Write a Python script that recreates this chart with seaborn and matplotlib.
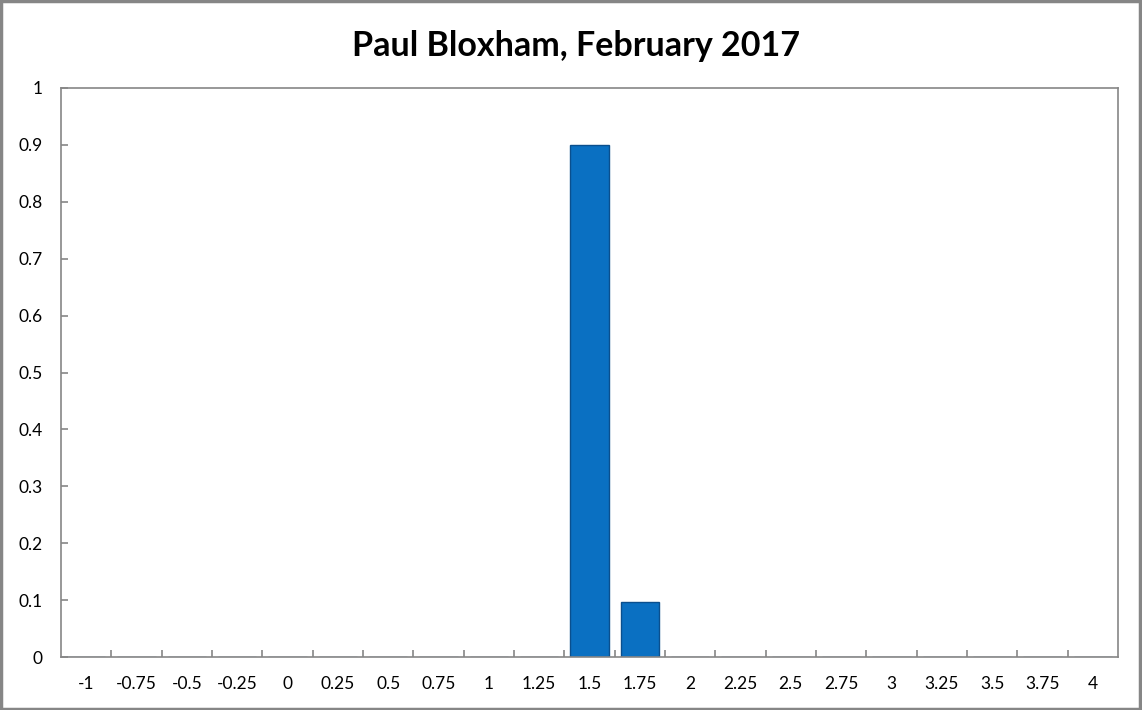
import pandas as pd
import matplotlib
matplotlib.use("Agg")
import matplotlib.pyplot as plt
import seaborn as sns
from matplotlib.patches import Rectangle

# categories and probabilities
categories = ['-1', '-0.75', '-0.5', '-0.25', '0', '0.25', '0.5', '0.75', '1', '1.25',
              '1.5', '1.75', '2', '2.25', '2.5', '2.75', '3', '3.25', '3.5', '3.75', '4']
values = [0, 0, 0, 0, 0, 0, 0, 0, 0, 0,
          0.9, 0.096, 0, 0, 0, 0, 0, 0, 0, 0, 0]
y_ticks = [0, 0.1, 0.2, 0.3, 0.4, 0.5, 0.6, 0.7, 0.8, 0.9, 1]
y_labels = ['0', '0.1', '0.2', '0.3', '0.4', '0.5', '0.6', '0.7', '0.8', '0.9', '1']
title = 'Paul Bloxham, February 2017'

df = pd.DataFrame({'bucket': categories, 'prob': values})

sns.set_style('white')
plt.rcParams['font.family'] = ['Lato', 'DejaVu Sans']

fig = plt.figure(figsize=(11.42, 7.1), dpi=100)
ax = fig.add_axes([61 / 1142, 53 / 710, 1057 / 1142, 569 / 710])

sns.barplot(data=df, x='bucket', y='prob', order=categories, color='#0a70c2',
            saturation=1, width=0.76, edgecolor='#0a4f8e', linewidth=1, ax=ax)

ax.set_xlim(-0.5, len(categories) - 0.5)
ax.set_ylim(0, 1)
ax.set_xlabel('')
ax.set_ylabel('')

gray = '#868686'
for s in ax.spines.values():
    s.set_visible(True)
    s.set_color(gray)
    s.set_linewidth(1.2)

ax.set_yticks(y_ticks)
ax.set_yticklabels(y_labels)
ax.set_xticks(range(len(categories)))
ax.set_xticklabels(categories)
ax.tick_params(axis='both', which='major', labelsize=12.5, colors='black')
ax.tick_params(axis='y', direction='in', length=5, width=1.2, color=gray, pad=13, left=True)
ax.tick_params(axis='x', length=0, pad=14)
# x tick marks between categories
ax.set_xticks([i + 0.5 for i in range(len(categories) - 1)], minor=True)
ax.tick_params(axis='x', which='minor', direction='in', length=5, width=1.2, color=gray, bottom=True)

fig.text(0.504, 1 - 46 / 710, title, ha='center', va='center',
         fontsize=24.5, fontweight='bold', color='black')

fig.patches.append(Rectangle((0.001, 0.001), 0.997, 0.997, transform=fig.transFigure,
                             fill=False, edgecolor=gray, linewidth=2.5))

fig.savefig('out.png', dpi=100)
